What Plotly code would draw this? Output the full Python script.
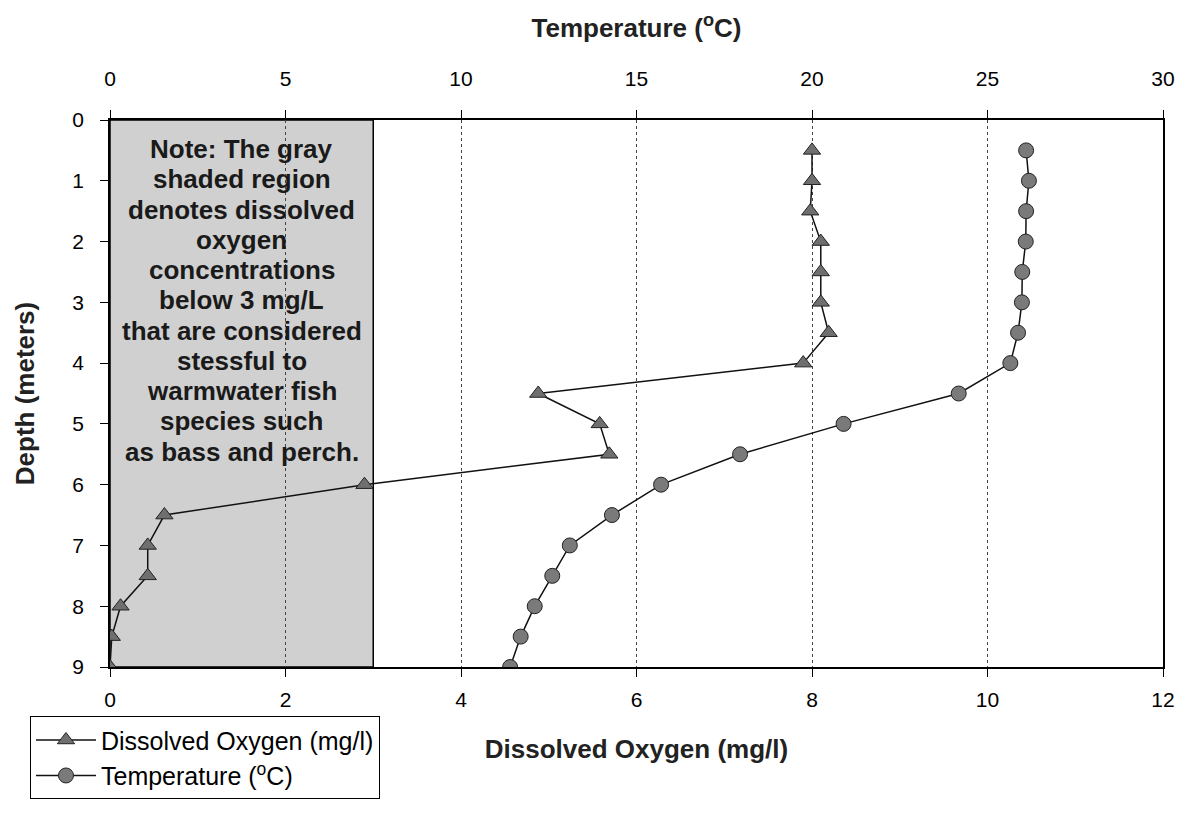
import plotly.graph_objects as go

# ---- data ----
depth_m = [0.5, 1.0, 1.5, 2.0, 2.5, 3.0, 3.5, 4.0, 4.5, 5.0, 5.5, 6.0, 6.5, 7.0, 7.5, 8.0, 8.5, 9.0]
dissolved_oxygen = [8.0, 8.0, 7.98, 8.1, 8.1, 8.1, 8.19, 7.9, 4.88, 5.58, 5.69, 2.9, 0.62, 0.43, 0.43, 0.12, 0.02, 0.0]
temperature_c = [26.1, 26.18, 26.1, 26.09, 25.99, 25.98, 25.87, 25.65, 24.18, 20.9, 17.95, 15.7, 14.3, 13.1, 12.6, 12.1, 11.7, 11.4]

do_ticks = [0, 2, 4, 6, 8, 10, 12]
temp_ticks = [0, 5, 10, 15, 20, 25, 30]
depth_ticks = [0, 1, 2, 3, 4, 5, 6, 7, 8, 9]
stress_threshold = 3  # mg/L

note_lines = ["Note: The gray", "shaded region", "denotes dissolved", "oxygen",
              "concentrations", "below 3 mg/L", "that are considered", "stessful to",
              "warmwater fish", "species such", "as bass and perch."]

FONT = "Liberation Sans, Arial, sans-serif"

fig = go.Figure()

fig.add_trace(go.Scatter(
    x=dissolved_oxygen, y=depth_m, xaxis="x", yaxis="y",
    mode="lines+markers", name="Dissolved Oxygen (mg/l)", legendgroup="do",
    line=dict(color="#111111", width=1.5),
    marker=dict(symbol="triangle-up", size=15, color="#6f6f6f",
                line=dict(color="#222222", width=1)),
))
fig.add_trace(go.Scatter(
    x=temperature_c, y=depth_m, xaxis="x2", yaxis="y",
    mode="lines+markers", name="Temperature (<sup>o</sup>C)", legendgroup="t",
    line=dict(color="#111111", width=1.5),
    marker=dict(symbol="circle", size=15, color="#7a7a7a",
                line=dict(color="#222222", width=1)),
))

fig.add_shape(type="rect", xref="x", yref="y", x0=0, x1=stress_threshold, y0=0, y1=9,
              fillcolor="#d0d0d0", line=dict(color="black", width=1.5), layer="below")

# note text, one line per annotation for tight line spacing
line_step = 0.4975
for i, line in enumerate(note_lines):
    fig.add_annotation(
        x=stress_threshold / 2, y=0.48 + i * line_step, xref="x", yref="y",
        text="<b>" + line + "</b>", showarrow=False, align="center",
        font=dict(family=FONT, size=26, color="#1a1a1a"),
    )

fig.update_layout(
    width=1185, height=816,
    margin=dict(l=102, r=30, t=112, b=157),
    paper_bgcolor="white", plot_bgcolor="white",
    font=dict(family=FONT, size=20, color="black"),
    showlegend=True,
    legend=dict(x=-0.076, y=-0.09, xanchor="left", yanchor="top",
                bordercolor="black", borderwidth=1, bgcolor="white",
                font=dict(family=FONT, size=25, color="black"),
                itemwidth=60,
                tracegroupgap=6, traceorder="normal"),
    xaxis=dict(
        range=[0, 12], tickvals=do_ticks, side="bottom",
        showline=True, linecolor="black", linewidth=1.5, mirror=False,
        ticks="outside", ticklen=8, tickcolor="black",
        tickfont=dict(size=21),
        showgrid=True, gridcolor="#444444", griddash="dot", gridwidth=1,
        zeroline=False, ticklabelstandoff=5,
        title=dict(text="<b>Dissolved Oxygen (mg/l)</b>", standoff=30,
                   font=dict(family=FONT, size=26, color="#222222")),
    ),
    xaxis2=dict(
        range=[0, 30], tickvals=temp_ticks, side="top", overlaying="x",
        showline=True, linecolor="black", linewidth=1.5,
        ticks="outside", ticklen=8, tickcolor="black",
        tickfont=dict(size=21),
        showgrid=False, zeroline=False, ticklabelstandoff=16,
        title=dict(text="<b>Temperature (<sup>o</sup>C)</b>", standoff=22,
                   font=dict(family=FONT, size=26, color="#222222")),
    ),
    yaxis=dict(
        range=[9, 0], tickvals=depth_ticks,
        showline=True, linecolor="black", linewidth=1.5, mirror=True,
        ticks="outside", ticklen=8, tickcolor="black",
        tickfont=dict(size=21),
        showgrid=False, zeroline=False, ticklabelstandoff=12,
        title=dict(text="<b>Depth (meters)</b>", standoff=30,
                   font=dict(family=FONT, size=26, color="#222222")),
    ),
)

fig.write_html("out.html")
